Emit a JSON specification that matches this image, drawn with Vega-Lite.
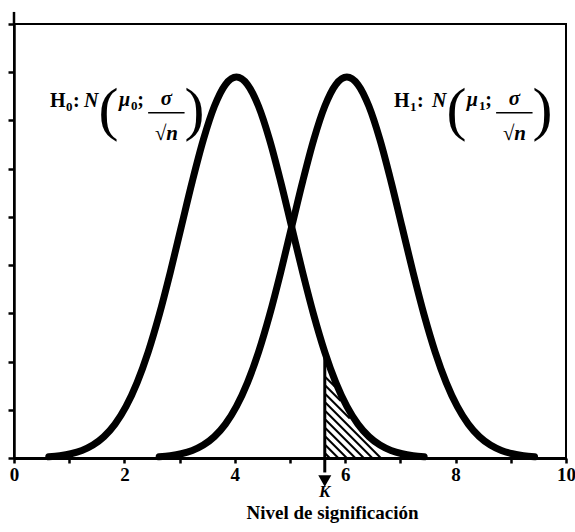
{
  "$schema": "https://vega.github.io/schema/vega-lite/v6.json",
  "width": 552,
  "height": 434,
  "autosize": "none",
  "padding": {"left": 14, "top": 24, "right": 9, "bottom": 74},
  "background": "white",
  "config": {
    "view": {"stroke": "black", "strokeWidth": 2},
    "font": "Liberation Serif",
    "axis": {"labelFont": "Liberation Serif", "titleFont": "Liberation Serif"},
    "text": {"font": "Liberation Serif"}
  },
  "datasets": {
    "curves": [
      {"curve": "H0", "x": 0.63, "y": 0.024}, {"curve": "H0", "x": 0.83, "y": 0.047}, {"curve": "H0", "x": 1.03, "y": 0.088},
      {"curve": "H0", "x": 1.23, "y": 0.157}, {"curve": "H0", "x": 1.43, "y": 0.269}, {"curve": "H0", "x": 1.63, "y": 0.443},
      {"curve": "H0", "x": 1.83, "y": 0.702}, {"curve": "H0", "x": 2.03, "y": 1.069}, {"curve": "H0", "x": 2.23, "y": 1.563},
      {"curve": "H0", "x": 2.43, "y": 2.196}, {"curve": "H0", "x": 2.63, "y": 2.965}, {"curve": "H0", "x": 2.83, "y": 3.846},
      {"curve": "H0", "x": 3.03, "y": 4.792}, {"curve": "H0", "x": 3.23, "y": 5.736}, {"curve": "H0", "x": 3.43, "y": 6.599},
      {"curve": "H0", "x": 3.63, "y": 7.293}, {"curve": "H0", "x": 3.83, "y": 7.744}, {"curve": "H0", "x": 4.03, "y": 7.9},
      {"curve": "H0", "x": 4.23, "y": 7.744}, {"curve": "H0", "x": 4.43, "y": 7.293}, {"curve": "H0", "x": 4.63, "y": 6.599},
      {"curve": "H0", "x": 4.83, "y": 5.736}, {"curve": "H0", "x": 5.03, "y": 4.792}, {"curve": "H0", "x": 5.23, "y": 3.846},
      {"curve": "H0", "x": 5.43, "y": 2.965}, {"curve": "H0", "x": 5.63, "y": 2.196}, {"curve": "H0", "x": 5.83, "y": 1.563},
      {"curve": "H0", "x": 6.03, "y": 1.069}, {"curve": "H0", "x": 6.23, "y": 0.702}, {"curve": "H0", "x": 6.43, "y": 0.443},
      {"curve": "H0", "x": 6.63, "y": 0.269}, {"curve": "H0", "x": 6.83, "y": 0.157}, {"curve": "H0", "x": 7.03, "y": 0.088},
      {"curve": "H0", "x": 7.23, "y": 0.047}, {"curve": "H0", "x": 7.43, "y": 0.024},
      {"curve": "H1", "x": 2.63, "y": 0.024}, {"curve": "H1", "x": 2.83, "y": 0.047}, {"curve": "H1", "x": 3.03, "y": 0.088},
      {"curve": "H1", "x": 3.23, "y": 0.157}, {"curve": "H1", "x": 3.43, "y": 0.269}, {"curve": "H1", "x": 3.63, "y": 0.443},
      {"curve": "H1", "x": 3.83, "y": 0.702}, {"curve": "H1", "x": 4.03, "y": 1.069}, {"curve": "H1", "x": 4.23, "y": 1.563},
      {"curve": "H1", "x": 4.43, "y": 2.196}, {"curve": "H1", "x": 4.63, "y": 2.965}, {"curve": "H1", "x": 4.83, "y": 3.846},
      {"curve": "H1", "x": 5.03, "y": 4.792}, {"curve": "H1", "x": 5.23, "y": 5.736}, {"curve": "H1", "x": 5.43, "y": 6.599},
      {"curve": "H1", "x": 5.63, "y": 7.293}, {"curve": "H1", "x": 5.83, "y": 7.744}, {"curve": "H1", "x": 6.03, "y": 7.9},
      {"curve": "H1", "x": 6.23, "y": 7.744}, {"curve": "H1", "x": 6.43, "y": 7.293}, {"curve": "H1", "x": 6.63, "y": 6.599},
      {"curve": "H1", "x": 6.83, "y": 5.736}, {"curve": "H1", "x": 7.03, "y": 4.792}, {"curve": "H1", "x": 7.23, "y": 3.846},
      {"curve": "H1", "x": 7.43, "y": 2.965}, {"curve": "H1", "x": 7.63, "y": 2.196}, {"curve": "H1", "x": 7.83, "y": 1.563},
      {"curve": "H1", "x": 8.03, "y": 1.069}, {"curve": "H1", "x": 8.23, "y": 0.702}, {"curve": "H1", "x": 8.43, "y": 0.443},
      {"curve": "H1", "x": 8.63, "y": 0.269}, {"curve": "H1", "x": 8.83, "y": 0.157}, {"curve": "H1", "x": 9.03, "y": 0.088},
      {"curve": "H1", "x": 9.23, "y": 0.047}, {"curve": "H1", "x": 9.43, "y": 0.024}
    ],
    "hatch": [
      {"x": 5.63, "y": 0.104, "x2": 5.721, "y2": 0},
      {"x": 5.63, "y": 0.280, "x2": 5.875, "y2": 0},
      {"x": 5.63, "y": 0.456, "x2": 6.029, "y2": 0},
      {"x": 5.63, "y": 0.633, "x2": 6.183, "y2": 0},
      {"x": 5.63, "y": 0.809, "x2": 6.337, "y2": 0},
      {"x": 5.63, "y": 0.985, "x2": 6.491, "y2": 0},
      {"x": 5.63, "y": 1.162, "x2": 6.645, "y2": 0},
      {"x": 5.63, "y": 1.338, "x2": 6.083, "y2": 0.820},
      {"x": 5.63, "y": 1.515, "x2": 5.920, "y2": 1.183},
      {"x": 5.63, "y": 1.691, "x2": 5.811, "y2": 1.483}
    ],
    "marker": [{"k": 5.63, "top": 2.2, "bottom": -0.3, "head": -0.477, "label": -0.8, "text": "K"}],
    "axisTop": [{"x": 0, "y": 9, "y2": 9.25}],
    "labels": [
      {"role": "roman", "x": 0.652, "y": 7.282, "text": "H"},
      {"role": "sub", "x": 0.942, "y": 7.199, "text": "0"},
      {"role": "roman", "x": 1.069, "y": 7.282, "text": ":"},
      {"role": "ital", "x": 1.268, "y": 7.282, "text": "N"},
      {"role": "paren", "x": 1.53, "y": 6.826, "text": "("},
      {"role": "ital", "x": 1.9, "y": 7.303, "text": "μ"},
      {"role": "sub", "x": 2.118, "y": 7.220, "text": "0"},
      {"role": "roman", "x": 2.235, "y": 7.303, "text": ";"},
      {"role": "frac", "x": 2.76, "y": 7.324, "text": "σ"},
      {"role": "frac", "x": 2.76, "y": 6.598, "text": "√n"},
      {"role": "paren", "x": 3.09, "y": 6.826, "text": ")"},
      {"role": "roman", "x": 6.884, "y": 7.282, "text": "H"},
      {"role": "sub", "x": 7.174, "y": 7.199, "text": "1"},
      {"role": "roman", "x": 7.301, "y": 7.282, "text": ":"},
      {"role": "ital", "x": 7.572, "y": 7.282, "text": "N"},
      {"role": "paren", "x": 7.834, "y": 6.826, "text": "("},
      {"role": "ital", "x": 8.204, "y": 7.303, "text": "μ"},
      {"role": "sub", "x": 8.422, "y": 7.220, "text": "1"},
      {"role": "roman", "x": 8.539, "y": 7.303, "text": ";"},
      {"role": "frac", "x": 9.064, "y": 7.324, "text": "σ"},
      {"role": "frac", "x": 9.064, "y": 6.598, "text": "√n"},
      {"role": "paren", "x": 9.394, "y": 6.826, "text": ")"}
    ],
    "bars": [
      {"x": 2.43, "x2": 3.09, "y": 7.158},
      {"x": 8.734, "x2": 9.394, "y": 7.158}
    ]
  },
  "layer": [
    {
      "data": {"name": "hatch"},
      "mark": {"type": "rule", "stroke": "black", "strokeWidth": 2},
      "encoding": {
        "x": {"field": "x", "type": "quantitative", "scale": {"domain": [0, 10], "nice": false},
          "axis": {
            "values": [0, 1, 2, 3, 4, 5, 6, 7, 8, 9, 10],
            "labelExpr": "datum.value % 2 === 0 ? datum.label : ''",
            "grid": false, "domainColor": "black", "domainWidth": 3,
            "tickColor": "black", "tickWidth": 2.5, "tickSize": 5,
            "labelFont": "Liberation Serif", "labelFontWeight": "bold", "labelFontSize": 19,
            "labelColor": "black", "labelPadding": 2, "labelFlush": false,
            "title": "Nivel de significación", "titleFont": "Liberation Serif",
            "titleFontWeight": "bold", "titleFontSize": 19, "titleColor": "black",
            "titleX": 318, "titleY": 60, "titleBaseline": "alphabetic", "titleAlign": "center"
          }},
        "y": {"field": "y", "type": "quantitative", "scale": {"domain": [0, 9], "nice": false},
          "axis": {
            "values": [0, 1, 2, 3, 4, 5, 6, 7, 8, 9], "labels": false, "title": null,
            "grid": false, "domainColor": "black", "domainWidth": 2.5,
            "tickColor": "black", "tickWidth": 2.5, "tickSize": 6
          }},
        "x2": {"field": "x2"},
        "y2": {"field": "y2"}
      }
    },
    {
      "data": {"name": "marker"},
      "mark": {"type": "rule", "stroke": "black", "strokeWidth": 3},
      "encoding": {
        "x": {"field": "k", "type": "quantitative"},
        "y": {"field": "top", "type": "quantitative"},
        "y2": {"field": "bottom"}
      }
    },
    {
      "data": {"name": "marker"},
      "mark": {"type": "point", "shape": "triangle-down", "filled": true, "color": "black", "size": 170, "opacity": 1},
      "encoding": {
        "x": {"field": "k", "type": "quantitative"},
        "y": {"field": "head", "type": "quantitative"}
      }
    },
    {
      "data": {"name": "marker"},
      "mark": {"type": "text", "font": "Liberation Serif", "fontStyle": "italic", "fontWeight": "bold", "fontSize": 17, "align": "center", "baseline": "alphabetic", "color": "black"},
      "encoding": {
        "x": {"field": "k", "type": "quantitative"},
        "y": {"field": "label", "type": "quantitative"},
        "text": {"field": "text"}
      }
    },
    {
      "data": {"name": "axisTop"},
      "mark": {"type": "rule", "stroke": "black", "strokeWidth": 2.5},
      "encoding": {
        "x": {"field": "x", "type": "quantitative"},
        "y": {"field": "y", "type": "quantitative"},
        "y2": {"field": "y2"}
      }
    },
    {
      "data": {"name": "curves"},
      "mark": {"type": "line", "stroke": "black", "strokeWidth": 7, "interpolate": "monotone", "strokeCap": "round", "strokeJoin": "round"},
      "encoding": {
        "x": {"field": "x", "type": "quantitative"},
        "y": {"field": "y", "type": "quantitative"},
        "detail": {"field": "curve"}
      }
    },
    {
      "data": {"name": "bars"},
      "mark": {"type": "rule", "stroke": "black", "strokeWidth": 1.5},
      "encoding": {
        "x": {"field": "x", "type": "quantitative"},
        "x2": {"field": "x2"},
        "y": {"field": "y", "type": "quantitative"}
      }
    },
    {
      "data": {"name": "labels"},
      "transform": [{"filter": "datum.role === 'roman'"}],
      "mark": {"type": "text", "font": "Liberation Serif", "fontWeight": "bold", "fontSize": 20, "align": "left", "baseline": "alphabetic", "color": "black"},
      "encoding": {
        "x": {"field": "x", "type": "quantitative"},
        "y": {"field": "y", "type": "quantitative"},
        "text": {"field": "text"}
      }
    },
    {
      "data": {"name": "labels"},
      "transform": [{"filter": "datum.role === 'sub'"}],
      "mark": {"type": "text", "font": "Liberation Serif", "fontWeight": "bold", "fontSize": 13, "align": "left", "baseline": "alphabetic", "color": "black"},
      "encoding": {
        "x": {"field": "x", "type": "quantitative"},
        "y": {"field": "y", "type": "quantitative"},
        "text": {"field": "text"}
      }
    },
    {
      "data": {"name": "labels"},
      "transform": [{"filter": "datum.role === 'ital'"}],
      "mark": {"type": "text", "font": "Liberation Serif", "fontWeight": "bold", "fontStyle": "italic", "fontSize": 20, "align": "left", "baseline": "alphabetic", "color": "black"},
      "encoding": {
        "x": {"field": "x", "type": "quantitative"},
        "y": {"field": "y", "type": "quantitative"},
        "text": {"field": "text"}
      }
    },
    {
      "data": {"name": "labels"},
      "transform": [{"filter": "datum.role === 'paren'"}],
      "mark": {"type": "text", "font": "Liberation Serif", "fontWeight": "normal", "fontSize": 60, "align": "left", "baseline": "alphabetic", "color": "black"},
      "encoding": {
        "x": {"field": "x", "type": "quantitative"},
        "y": {"field": "y", "type": "quantitative"},
        "text": {"field": "text"}
      }
    },
    {
      "data": {"name": "labels"},
      "transform": [{"filter": "datum.role === 'frac'"}],
      "mark": {"type": "text", "font": "Liberation Serif", "fontWeight": "bold", "fontStyle": "italic", "fontSize": 21, "align": "center", "baseline": "alphabetic", "color": "black"},
      "encoding": {
        "x": {"field": "x", "type": "quantitative"},
        "y": {"field": "y", "type": "quantitative"},
        "text": {"field": "text"}
      }
    }
  ]
}
